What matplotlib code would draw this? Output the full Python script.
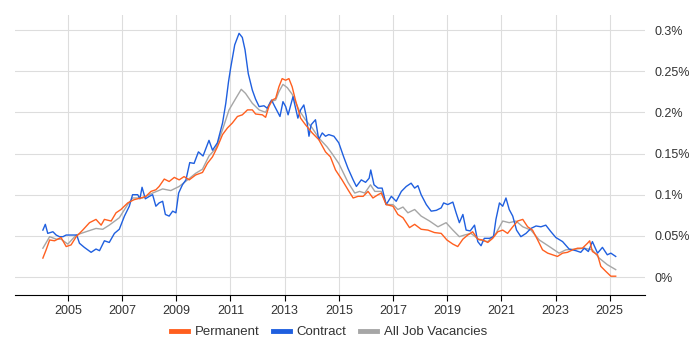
import matplotlib.pyplot as plt
from matplotlib.ticker import FuncFormatter

plt.rcParams['font.family'] = ['Liberation Sans', 'DejaVu Sans']

# share of UK job ads (%)
perm_year = [2004.08, 2004.20, 2004.33, 2004.51, 2004.75, 2004.94, 2005.12, 2005.31, 2005.55,
             2005.80, 2006.04, 2006.23, 2006.35, 2006.60, 2006.78, 2006.96, 2007.21, 2007.45,
             2007.70, 2007.88, 2008.07, 2008.25, 2008.37, 2008.56, 2008.74, 2008.93, 2009.11,
             2009.29, 2009.48, 2009.72, 2009.97, 2010.15, 2010.34, 2010.52, 2010.71, 2010.89,
             2011.07, 2011.26, 2011.44, 2011.63, 2011.81, 2011.93, 2012.18, 2012.30, 2012.42,
             2012.55, 2012.67, 2012.79, 2012.91, 2013.04, 2013.16, 2013.28, 2013.40, 2013.59,
             2013.77, 2014.02, 2014.26, 2014.51, 2014.69, 2014.88, 2015.12, 2015.34, 2015.53,
             2015.71, 2015.90, 2016.08, 2016.26, 2016.45, 2016.57, 2016.75, 2017.00, 2017.18,
             2017.37, 2017.61, 2017.80, 2018.04, 2018.29, 2018.53, 2018.78, 2018.99, 2019.21,
             2019.39, 2019.58, 2019.76, 2019.94, 2020.13, 2020.31, 2020.50, 2020.68, 2020.87,
             2021.05, 2021.23, 2021.42, 2021.60, 2021.79, 2021.97, 2022.15, 2022.34, 2022.52,
             2022.71, 2022.89, 2023.07, 2023.26, 2023.44, 2023.63, 2023.81, 2023.99, 2024.18,
             2024.26, 2024.36, 2024.55, 2024.67, 2024.85, 2025.04, 2025.22]
perm_val = [0.023, 0.033, 0.045, 0.044, 0.048, 0.037, 0.039, 0.049, 0.057,
            0.066, 0.070, 0.063, 0.070, 0.068, 0.078, 0.082, 0.090, 0.094,
            0.096, 0.098, 0.104, 0.106, 0.110, 0.119, 0.116, 0.121, 0.118,
            0.122, 0.118, 0.124, 0.127, 0.138, 0.146, 0.158, 0.173, 0.181,
            0.187, 0.195, 0.197, 0.203, 0.203, 0.198, 0.197, 0.194, 0.207,
            0.215, 0.217, 0.231, 0.241, 0.239, 0.241, 0.231, 0.215, 0.193,
            0.185, 0.175, 0.167, 0.152, 0.146, 0.130, 0.118, 0.106, 0.096,
            0.098, 0.098, 0.104, 0.096, 0.100, 0.102, 0.088, 0.086, 0.076,
            0.072, 0.060, 0.064, 0.058, 0.057, 0.054, 0.053, 0.045, 0.040,
            0.037, 0.046, 0.051, 0.055, 0.046, 0.045, 0.042, 0.047, 0.055,
            0.057, 0.053, 0.061, 0.068, 0.070, 0.061, 0.057, 0.045, 0.033,
            0.029, 0.027, 0.025, 0.029, 0.030, 0.033, 0.035, 0.035, 0.041,
            0.044, 0.031, 0.027, 0.013, 0.007, 0.001, 0.001]

contract_year = [2004.08, 2004.17, 2004.26, 2004.45, 2004.57, 2004.69, 2004.82, 2004.94, 2005.12,
                 2005.33, 2005.43, 2005.61, 2005.86, 2006.04, 2006.17, 2006.35, 2006.53, 2006.72,
                 2006.90, 2007.09, 2007.27, 2007.39, 2007.58, 2007.66, 2007.74, 2007.86, 2008.01,
                 2008.13, 2008.25, 2008.37, 2008.50, 2008.60, 2008.74, 2008.87, 2008.99, 2009.09,
                 2009.23, 2009.36, 2009.50, 2009.66, 2009.82, 2009.99, 2010.21, 2010.34, 2010.52,
                 2010.71, 2010.83, 2010.93, 2011.01, 2011.16, 2011.32, 2011.44, 2011.54, 2011.66,
                 2011.81, 2011.93, 2012.06, 2012.24, 2012.36, 2012.52, 2012.64, 2012.83, 2012.94,
                 2013.04, 2013.13, 2013.31, 2013.49, 2013.59, 2013.71, 2013.80, 2013.90, 2013.98,
                 2014.14, 2014.26, 2014.39, 2014.51, 2014.63, 2014.82, 2015.00, 2015.18, 2015.34,
                 2015.53, 2015.65, 2015.83, 2015.99, 2016.12, 2016.18, 2016.30, 2016.45, 2016.60,
                 2016.75, 2016.94, 2017.12, 2017.31, 2017.49, 2017.67, 2017.80, 2017.92, 2018.04,
                 2018.23, 2018.41, 2018.60, 2018.78, 2018.87, 2019.02, 2019.21, 2019.33, 2019.45,
                 2019.58, 2019.70, 2019.85, 2020.01, 2020.13, 2020.25, 2020.37, 2020.56, 2020.71,
                 2020.80, 2020.93, 2021.05, 2021.17, 2021.29, 2021.42, 2021.56, 2021.72, 2021.91,
                 2022.09, 2022.28, 2022.46, 2022.64, 2022.83, 2023.01, 2023.26, 2023.50, 2023.75,
                 2023.93, 2024.06, 2024.21, 2024.36, 2024.55, 2024.73, 2024.91, 2025.04, 2025.22]
contract_val = [0.057, 0.064, 0.053, 0.055, 0.051, 0.049, 0.049, 0.051, 0.051,
                0.051, 0.041, 0.036, 0.030, 0.034, 0.032, 0.044, 0.042, 0.053,
                0.058, 0.074, 0.086, 0.100, 0.100, 0.095, 0.109, 0.095, 0.098,
                0.100, 0.086, 0.090, 0.092, 0.076, 0.074, 0.080, 0.078, 0.102,
                0.112, 0.118, 0.139, 0.138, 0.152, 0.147, 0.166, 0.154, 0.163,
                0.187, 0.211, 0.237, 0.254, 0.282, 0.296, 0.291, 0.276, 0.247,
                0.227, 0.216, 0.207, 0.208, 0.205, 0.215, 0.207, 0.195, 0.213,
                0.207, 0.197, 0.219, 0.193, 0.203, 0.209, 0.195, 0.171, 0.185,
                0.191, 0.167, 0.175, 0.171, 0.173, 0.171, 0.163, 0.146, 0.132,
                0.118, 0.110, 0.118, 0.115, 0.120, 0.130, 0.112, 0.108, 0.108,
                0.088, 0.098, 0.092, 0.104, 0.110, 0.114, 0.108, 0.111, 0.100,
                0.088, 0.080, 0.081, 0.084, 0.090, 0.088, 0.091, 0.078, 0.066,
                0.076, 0.057, 0.056, 0.063, 0.043, 0.038, 0.047, 0.047, 0.049,
                0.070, 0.090, 0.086, 0.096, 0.082, 0.074, 0.057, 0.049, 0.053,
                0.059, 0.062, 0.061, 0.063, 0.055, 0.048, 0.043, 0.034, 0.032,
                0.030, 0.035, 0.031, 0.043, 0.029, 0.036, 0.027, 0.029, 0.025]

all_year = [2004.08, 2004.33, 2004.57, 2004.75, 2005.00, 2005.31, 2005.67, 2006.04, 2006.29,
            2006.53, 2006.90, 2007.21, 2007.39, 2007.76, 2008.13, 2008.50, 2008.80, 2009.11,
            2009.42, 2009.72, 2009.97, 2010.21, 2010.46, 2010.71, 2010.95, 2011.20, 2011.40,
            2011.56, 2011.81, 2012.06, 2012.30, 2012.48, 2012.67, 2012.79, 2012.94, 2013.10,
            2013.28, 2013.53, 2013.77, 2014.02, 2014.26, 2014.57, 2014.75, 2015.00, 2015.34,
            2015.59, 2015.77, 2015.96, 2016.17, 2016.33, 2016.57, 2016.75, 2017.00, 2017.18,
            2017.37, 2017.55, 2017.80, 2018.04, 2018.35, 2018.66, 2018.96, 2019.21, 2019.45,
            2019.64, 2019.88, 2020.19, 2020.50, 2020.80, 2021.05, 2021.29, 2021.54, 2021.79,
            2022.09, 2022.40, 2022.77, 2023.13, 2023.38, 2023.75, 2024.06, 2024.36, 2024.61,
            2024.91, 2025.22]
all_val = [0.035, 0.049, 0.046, 0.046, 0.040, 0.051, 0.055, 0.059, 0.058,
           0.063, 0.072, 0.088, 0.096, 0.096, 0.102, 0.107, 0.105, 0.110,
           0.118, 0.126, 0.131, 0.147, 0.156, 0.179, 0.203, 0.217, 0.228,
           0.223, 0.211, 0.203, 0.200, 0.213, 0.215, 0.225, 0.234, 0.230,
           0.222, 0.203, 0.191, 0.181, 0.169, 0.158, 0.150, 0.138, 0.115,
           0.102, 0.104, 0.102, 0.112, 0.104, 0.104, 0.088, 0.088, 0.082,
           0.085, 0.078, 0.082, 0.074, 0.068, 0.061, 0.066, 0.057, 0.049,
           0.051, 0.053, 0.045, 0.043, 0.053, 0.068, 0.066, 0.068, 0.061,
           0.057, 0.045, 0.037, 0.029, 0.033, 0.034, 0.035, 0.033, 0.023,
           0.015, 0.009]

year_ticks = [2005, 2007, 2009, 2011, 2013, 2015, 2017, 2019, 2021, 2023, 2025]
pct_ticks = [0, 0.05, 0.1, 0.15, 0.2, 0.25, 0.3]

fig = plt.figure(figsize=(7, 3.5), dpi=100)
ax = fig.add_axes([0.021, 0.157, 0.9, 0.8])

ax.plot(all_year, all_val, color='#a6a6a6', lw=1.0, label='All Job Vacancies', zorder=2)
ax.plot(contract_year, contract_val, color='#1f5fdf', lw=1.0, label='Contract', zorder=3)
ax.plot(perm_year, perm_val, color='#ff5f1f', lw=1.0, label='Permanent', zorder=4)

ax.set_xlim(2003.04, 2026.29)
ax.set_ylim(-0.0219, 0.3182)
ax.set_xticks(year_ticks)
ax.set_yticks(pct_ticks)
ax.yaxis.set_major_formatter(FuncFormatter(lambda v, p: f'{v:g}%'))
ax.yaxis.tick_right()
ax.grid(True, color='#dddddd', lw=0.8)
ax.set_axisbelow(True)
for s in ['top', 'left', 'right']:
    ax.spines[s].set_visible(False)
ax.spines['bottom'].set_color('#000000')
ax.tick_params(axis='y', length=0, pad=7, labelsize=9, labelcolor='#333333')
ax.tick_params(axis='x', length=4, color='#000000', labelsize=9, labelcolor='#333333')

h, l = ax.get_legend_handles_labels()
order = [2, 1, 0]
leg = fig.legend([h[i] for i in order], [l[i] for i in order], loc='lower center',
                 bbox_to_anchor=(0.47, 0.0), ncol=3, frameon=False, fontsize=9.5,
                 handlelength=1.3, handletextpad=0.5, columnspacing=1.0)
for line in leg.get_lines():
    line.set_linewidth(3.5)
for t in leg.get_texts():
    t.set_color('#333333')

fig.savefig('out.png', dpi=100)
